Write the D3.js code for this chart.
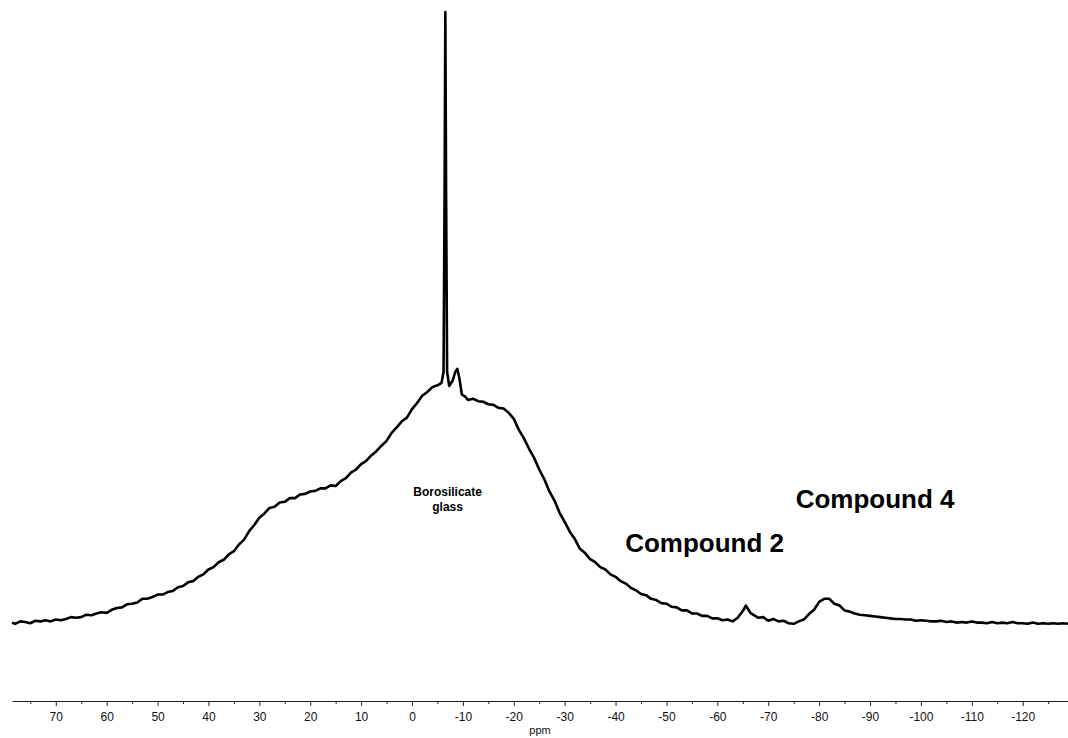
<!DOCTYPE html>
<html>
<head>
<meta charset="utf-8">
<script src="https://cdn.jsdelivr.net/npm/d3@7/dist/d3.min.js"></script>
<style>
  html, body { margin: 0; padding: 0; background: #fff; }
  svg { display: block; font-family: Arial, "Liberation Sans", Helvetica, sans-serif; }
</style>
</head>
<body>
<svg id="chart" width="1068" height="738"></svg>
<script>
// Chemical shift (ppm) of each sampled point of the spectrum
const shiftPpm = [
  78.6, 78, 77, 76, 75, 74, 73, 72, 71, 70, 69, 68, 67, 66, 65, 64, 63, 62, 61, 60,
  59, 58, 57, 56, 55, 54, 53, 52, 51, 50, 49, 48, 47, 46, 45, 44, 43, 42, 41, 40,
  39, 38, 37, 36, 35, 34, 33, 32, 31, 30, 29, 28, 27, 26, 25, 24, 23, 22, 21, 20,
  19, 18, 17, 16, 15, 14, 13, 12, 11, 10, 9, 8, 7, 6, 5, 4, 3, 2, 1, 0,
  -1, -2, -3, -4, -5, -5.8, -6.2, -6.4, -6.55, -6.7, -6.9, -7.3, -8, -8.5, -8.9, -9.3, -9.8, -10.5, -11,
  -12, -13, -14, -15, -16, -17, -18, -19, -20, -21, -22, -23, -24, -25, -26, -27, -28, -29, -30,
  -31, -32, -33, -34, -35, -36, -37, -38, -39, -40, -41, -42, -43, -44, -45, -46, -47, -48, -49, -50,
  -51, -52, -53, -54, -55, -56, -57, -58, -59, -60, -61, -62, -63, -64, -65, -65.6, -66.5, -67, -68, -69, -70,
  -71, -72, -73, -74, -75, -76, -77, -78, -79, -80, -81, -82, -83, -84, -85, -86, -87, -88, -89, -90,
  -91, -92, -93, -94, -95, -96, -97, -98, -99, -100, -101, -102, -103, -104, -105, -106, -107, -108, -109, -110,
  -111, -112, -113, -114, -115, -116, -117, -118, -119, -120, -121, -122, -123, -124, -125, -126, -127, -128, -128.9
];

// Signal intensity (arbitrary units) at each shift above
const intensity = [
  -0.1, -0.3, 0.1, 0.0, -0.2, 0.2, 0.1, 0.3, 0.1, 0.4, 0.3, 0.5, 0.8, 0.7, 0.8, 1.2, 1.1, 1.4, 1.6, 1.5,
  2.0, 2.3, 2.4, 2.9, 3.0, 3.2, 3.8, 3.8, 4.1, 4.5, 4.5, 4.9, 5.1, 5.7, 5.9, 6.5, 6.7, 7.4, 7.8, 8.6,
  9.0, 9.8, 10.2, 11.1, 11.6, 12.7, 13.5, 14.9, 15.9, 17.1, 17.8, 18.7, 18.9, 19.6, 19.7, 20.3, 20.3, 20.9, 21.0, 21.4,
  21.5, 21.9, 21.9, 22.4, 22.3, 23.1, 23.6, 24.5, 25.0, 25.9, 26.4, 27.3, 28.0, 28.9, 29.7, 31.0, 31.9, 32.9, 33.5, 34.9,
  35.9, 37.1, 37.7, 38.5, 38.8, 39.2, 41, 70, 100, 70, 41, 38.7, 39.6, 41.0, 41.5, 40.0, 37.3, 36.9, 36.4,
  36.6, 36.2, 36.1, 35.7, 35.6, 35.1, 35.0, 34.3, 33.3, 31.5, 30.1, 28.4, 26.9, 25.0, 23.4, 21.4, 19.9, 17.9, 16.4,
  14.8, 13.6, 12.0, 11.3, 10.3, 9.8, 9.0, 8.6, 7.8, 7.4, 6.7, 6.3, 5.6, 5.2, 4.6, 4.4, 3.8, 3.6, 3.1, 3.0,
  2.5, 2.4, 1.9, 1.9, 1.4, 1.4, 1.0, 1.0, 0.6, 0.6, 0.3, 0.4, 0.1, 0.7, 1.8, 2.7, 1.5, 1.2, 0.7, 0.8, 0.2,
  0.5, 0.1, 0.2, -0.2, -0.3, 0.1, 0.4, 1.3, 2.0, 3.3, 3.8, 3.8, 3.0, 2.7, 1.9, 1.7, 1.4, 1.2, 1.1, 1.0,
  0.9, 0.8, 0.7, 0.6, 0.5, 0.5, 0.4, 0.4, 0.2, 0.3, 0.2, 0.1, 0.1, 0.2, 0.0, 0.1, -0.1, 0.0, -0.1, 0.1,
  -0.1, -0.1, -0.2, 0.0, -0.2, -0.1, -0.2, 0.0, -0.2, -0.2, -0.3, -0.1, -0.3, -0.2, -0.3, -0.2, -0.3, -0.2, -0.3
];

// Axis tick values (ppm)
const majorTicks = [70, 60, 50, 40, 30, 20, 10, 0, -10, -20, -30, -40, -50, -60, -70, -80, -90, -100, -110, -120];
const minorTicks = [75, 65, 55, 45, 35, 25, 15, 5, -5, -15, -25, -35, -45, -55, -65, -75, -85, -95, -105, -115, -125];

// Peak annotations: text lines and the shift/intensity they sit at
const annotations = [
  { lines: ["Borosilicate", "glass"], ppm: -7, level: 20.6, size: 12 },
  { lines: ["Compound 2"], ppm: -57.5, level: 11.5, size: 26 },
  { lines: ["Compound 4"], ppm: -91, level: 18.7, size: 26 }
];

const svg = d3.select("#chart");

const x = d3.scaleLinear().domain([78.6, -128.9]).range([12, 1068]);
const y = d3.scaleLinear().domain([0, 100]).range([622, 12]);

const points = shiftPpm.map((p, i) => [p, intensity[i]]);

const line = d3.line()
  .x(d => x(d[0]))
  .y(d => y(d[1]));

svg.append("path")
  .datum(points)
  .attr("fill", "none")
  .attr("stroke", "#000")
  .attr("stroke-width", 2.6)
  .attr("stroke-linejoin", "round")
  .attr("d", line);

// Annotations
annotations.forEach(a => {
  const t = svg.append("text")
    .attr("x", x(a.ppm))
    .attr("y", y(a.level))
    .attr("text-anchor", "middle")
    .attr("font-weight", "bold")
    .attr("font-size", a.size)
    .attr("fill", "#000");
  a.lines.forEach((s, i) => {
    t.append("tspan")
      .attr("x", x(a.ppm))
      .attr("dy", i === 0 ? 0 : a.size * 1.2)
      .text(s);
  });
});

// Bottom ppm axis
const axisY = 701;
const gMinor = svg.append("g").attr("transform", `translate(0,${axisY})`)
  .call(d3.axisBottom(x).tickValues(minorTicks).tickSize(3).tickSizeOuter(0).tickFormat(""));
const gMajor = svg.append("g").attr("transform", `translate(0,${axisY})`)
  .call(d3.axisBottom(x).tickValues(majorTicks).tickSize(5).tickSizeOuter(0).tickPadding(6)
    .tickFormat(d => String(d)));

[gMinor, gMajor].forEach(g => {
  g.select(".domain").attr("stroke", "#222").attr("stroke-width", 1);
  g.selectAll(".tick line").attr("stroke", "#222");
  g.selectAll(".tick text").attr("font-size", 12).attr("fill", "#111")
    .attr("font-family", "Arial, 'Liberation Sans', sans-serif");
});
gMinor.select(".domain").remove();

svg.append("text")
  .attr("x", (x.range()[0] + x.range()[1]) / 2)
  .attr("y", 734)
  .attr("text-anchor", "middle")
  .attr("font-size", 11)
  .attr("fill", "#111")
  .text("ppm");
</script>
</body>
</html>
